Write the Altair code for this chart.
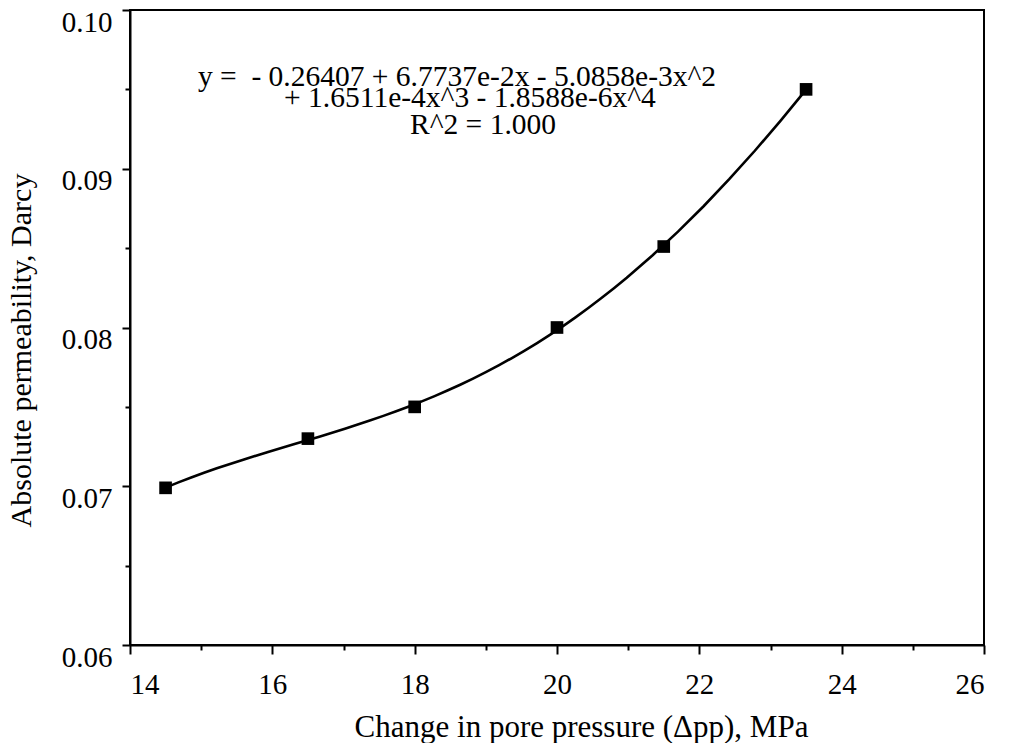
import altair as alt
import pandas as pd

# Data
pressure = [14.5, 16.5, 18.0, 20.0, 21.5, 23.5]
permeability = [0.0699, 0.0730, 0.0750, 0.0800, 0.0851, 0.0950]

eq_lines = [
    "y = \u00a0- 0.26407 + 6.7737e-2x - 5.0858e-3x^2",
    "+ 1.6511e-4x^3 - 1.8588e-6x^4",
    "R^2 = 1.000",
]
eq_x = [18.595, 18.777, 18.96]
eq_y = [0.09520, 0.09388, 0.09218]

x_ticks = list(range(14, 27))
y_ticks = [0.06, 0.065, 0.07, 0.075, 0.08, 0.085, 0.09, 0.095, 0.10]

df = pd.DataFrame({"x": pressure, "y": permeability})
eq_df = pd.DataFrame({"text": eq_lines, "x": eq_x, "y": eq_y})

FONT = "Liberation Serif"

x_scale = alt.Scale(domain=[14, 26], nice=False, zero=False)
y_scale = alt.Scale(domain=[0.06, 0.10], nice=False, zero=False)

x_axis = alt.Axis(
    values=x_ticks,
    grid=False,
    format="d",
    labelExpr="datum.value % 2 === 0 ? datum.label : ''",
    tickSize={"condition": {"test": "datum.value % 2 === 0", "value": 9}, "value": 5},
    tickWidth=2,
    tickColor="black",
    domainColor="black",
    domainWidth=2,
    labelFont=FONT,
    labelFontSize=29,
    labelColor="black",
    labelPadding=16,
    title="Change in pore pressure (Δpp), MPa",
    titleFont=FONT,
    titleFontSize=31,
    titleFontWeight="normal",
    titleColor="black",
    titlePadding=13,
    titleX=451,
)

y_axis = alt.Axis(
    values=y_ticks,
    grid=False,
    format=".2f",
    labelExpr="abs(datum.value*100 - round(datum.value*100)) < 0.001 ? datum.label : ''",
    tickSize={"condition": {"test": "abs(datum.value*100 - round(datum.value*100)) < 0.001", "value": 8}, "value": 5},
    tickWidth=2,
    tickColor="black",
    domainColor="black",
    domainWidth=2,
    labelFont=FONT,
    labelFontSize=29,
    labelColor="black",
    labelPadding=10,
    labelBaseline="top",
    labelOffset=-2,
    title="Absolute permeability, Darcy",
    titleFont=FONT,
    titleFontSize=30,
    titleFontWeight="normal",
    titleColor="black",
    titlePadding=25,
    titleY=340,
)

base = alt.Chart(df)

curve = base.transform_regression(
    "x", "y", method="poly", order=4, extent=[14.5, 23.5]
).mark_line(color="black", strokeWidth=2.6).encode(
    x=alt.X("x:Q", scale=x_scale, axis=x_axis),
    y=alt.Y("y:Q", scale=y_scale, axis=y_axis),
)

points = base.mark_square(size=160, color="black", opacity=1, filled=True).encode(
    x=alt.X("x:Q", scale=x_scale),
    y=alt.Y("y:Q", scale=y_scale),
)

eq = alt.Chart(eq_df).mark_text(
    font=FONT, fontSize=29.5, color="black", align="center", baseline="alphabetic"
).encode(
    x=alt.X("x:Q", scale=x_scale),
    y=alt.Y("y:Q", scale=y_scale),
    text="text:N",
)

chart = alt.layer(curve, points, eq).properties(
    width=854,
    height=635,
    autosize=alt.AutoSizeParams(type="none"),
    padding={"left": 122, "top": 2, "right": 18, "bottom": 98},
    background="white",
).configure_view(stroke="black", strokeWidth=2)

chart.save("out.html", embed_options={"renderer": "svg", "actions": False})
